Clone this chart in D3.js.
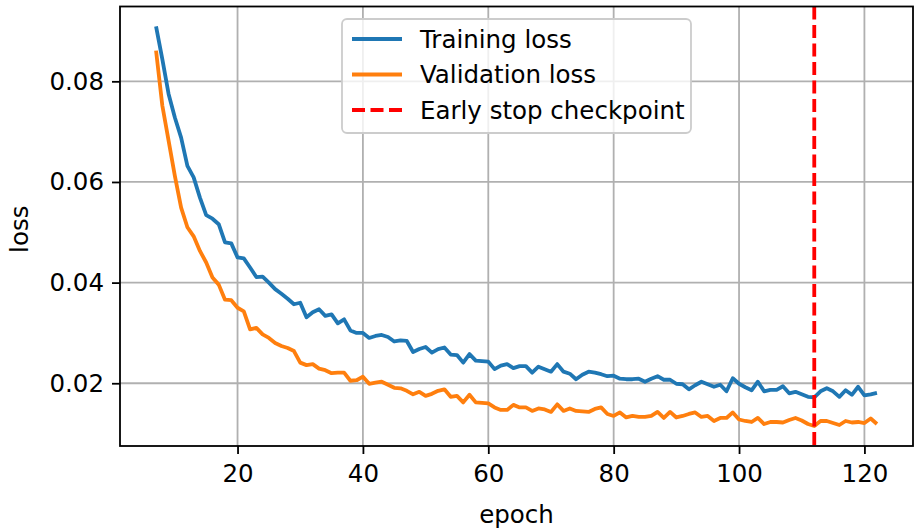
<!DOCTYPE html>
<html>
<head>
<meta charset="utf-8">
<script src="https://cdn.jsdelivr.net/npm/d3@7"></script>
<style>
  body { margin: 0; background: #fff; }
  text { font-family: "DejaVu Sans", sans-serif; fill: #000; }
</style>
</head>
<body>
<div id="lossChart"></div>
<script>
const epochs = d3.range(7, 123);

const trainLoss = [
  0.0909, 0.0844, 0.0775, 0.0728, 0.0688, 0.0632, 0.0609, 0.0569, 0.0534, 0.0527,
  0.0516, 0.0480, 0.0478, 0.0450, 0.0448, 0.0430, 0.0411, 0.0412, 0.0400, 0.0387,
  0.0378, 0.0368, 0.0357, 0.0360, 0.0331, 0.0341, 0.0347, 0.0334, 0.0337, 0.0319,
  0.0327, 0.0305, 0.0300, 0.0300, 0.0290, 0.0294, 0.0296, 0.0292, 0.0283, 0.0285,
  0.0284, 0.0262, 0.0268, 0.0272, 0.0261, 0.0268, 0.0271, 0.0257, 0.0256, 0.0241,
  0.0258, 0.0245, 0.0244, 0.0243, 0.0228, 0.0235, 0.0238, 0.0230, 0.0234, 0.0234,
  0.0221, 0.0233, 0.0228, 0.0223, 0.0238, 0.0223, 0.0219, 0.0208, 0.0217, 0.0223,
  0.0221, 0.0218, 0.0214, 0.0215, 0.0209, 0.0208, 0.0208, 0.0209, 0.0203, 0.0209,
  0.0214, 0.0207, 0.0207, 0.0199, 0.0198, 0.0188, 0.0196, 0.0203, 0.0198, 0.0193,
  0.0197, 0.0184, 0.0210, 0.0199, 0.0192, 0.0186, 0.0203, 0.0184, 0.0187, 0.0187,
  0.0194, 0.0180, 0.0183, 0.0178, 0.0173, 0.0172, 0.0184, 0.0190, 0.0184, 0.0173,
  0.0186, 0.0177, 0.0193, 0.0176, 0.0178, 0.0181
];

const valLoss = [
  0.0861, 0.0752, 0.0682, 0.0612, 0.0549, 0.0510, 0.0492, 0.0463, 0.0440, 0.0410,
  0.0396, 0.0366, 0.0365, 0.0350, 0.0343, 0.0307, 0.0310, 0.0297, 0.0290, 0.0280,
  0.0274, 0.0270, 0.0264, 0.0241, 0.0236, 0.0238, 0.0229, 0.0226, 0.0220, 0.0221,
  0.0221, 0.0205, 0.0206, 0.0213, 0.0199, 0.0201, 0.0203, 0.0197, 0.0191, 0.0190,
  0.0185, 0.0178, 0.0183, 0.0175, 0.0179, 0.0185, 0.0188, 0.0173, 0.0175, 0.0162,
  0.0177, 0.0162, 0.0161, 0.0160, 0.0152, 0.0147, 0.0147, 0.0157, 0.0152, 0.0152,
  0.0145, 0.0150, 0.0148, 0.0143, 0.0158, 0.0145, 0.0150, 0.0145, 0.0144, 0.0143,
  0.0149, 0.0152, 0.0139, 0.0135, 0.0142, 0.0132, 0.0135, 0.0133, 0.0133, 0.0135,
  0.0143, 0.0131, 0.0143, 0.0132, 0.0135, 0.0139, 0.0142, 0.0133, 0.0135, 0.0125,
  0.0131, 0.0131, 0.0142, 0.0128, 0.0125, 0.0123, 0.0131, 0.0119, 0.0123, 0.0123,
  0.0122, 0.0127, 0.0131, 0.0126, 0.0119, 0.0115, 0.0125, 0.0125, 0.0121, 0.0117,
  0.0125, 0.0122, 0.0123, 0.0121, 0.0130, 0.0119
];

const earlyStopEpoch = 112;
const xTicks = [20, 40, 60, 80, 100, 120];
const yTicks = [0.02, 0.04, 0.06, 0.08];
const legendLabels = ["Training loss", "Validation loss", "Early stop checkpoint"];

const W = 915, H = 530;
const margin = { top: 6.5, right: 2, bottom: 84, left: 120 };
const plotW = W - margin.left - margin.right;
const plotH = H - margin.top - margin.bottom;
const fontSize = 24.5;

const svg = d3.select("#lossChart").append("svg")
    .attr("width", W)
    .attr("height", H);

svg.append("rect").attr("width", W).attr("height", H).attr("fill", "#fff");

const g = svg.append("g").attr("transform", `translate(${margin.left},${margin.top})`);

// matplotlib style 5% padding
const xPad = (d3.max(epochs) - d3.min(epochs)) * 0.05;
const x = d3.scaleLinear()
    .domain([d3.min(epochs) - xPad, d3.max(epochs) + xPad])
    .range([0, plotW]);

const allVals = trainLoss.concat(valLoss);
const yPad = (d3.max(allVals) - d3.min(allVals)) * 0.05;
const y = d3.scaleLinear()
    .domain([d3.min(allVals) - yPad, d3.max(allVals) + yPad])
    .range([plotH, 0]);

// grid
g.append("g")
    .selectAll("line")
    .data(xTicks)
    .enter().append("line")
    .attr("x1", d => x(d)).attr("x2", d => x(d))
    .attr("y1", 0).attr("y2", plotH)
    .attr("stroke", "#b0b0b0").attr("stroke-width", 1.8);

g.append("g")
    .selectAll("line")
    .data(yTicks)
    .enter().append("line")
    .attr("x1", 0).attr("x2", plotW)
    .attr("y1", d => y(d)).attr("y2", d => y(d))
    .attr("stroke", "#b0b0b0").attr("stroke-width", 1.8);

// axes
const xAxis = g.append("g")
    .attr("transform", `translate(0,${plotH})`)
    .call(d3.axisBottom(x).tickValues(xTicks).tickSize(8).tickPadding(11).tickFormat(d3.format("d")));

const yAxis = g.append("g")
    .call(d3.axisLeft(y).tickValues(yTicks).tickSize(8).tickPadding(8).tickFormat(d3.format(".2f")));

[xAxis, yAxis].forEach(a => {
    a.select(".domain").remove();
    a.selectAll("line").attr("stroke", "#000").attr("stroke-width", 1.8);
    a.selectAll("text").attr("font-size", fontSize).attr("font-family", "DejaVu Sans").attr("fill", "#000");
});

// lines
const line = d3.line()
    .x((d, i) => x(epochs[i]))
    .y(d => y(d));

g.append("path")
    .datum(trainLoss)
    .attr("d", line)
    .attr("fill", "none")
    .attr("stroke", "#1f77b4")
    .attr("stroke-width", 3.8)
    .attr("stroke-linejoin", "round");

g.append("path")
    .datum(valLoss)
    .attr("d", line)
    .attr("fill", "none")
    .attr("stroke", "#ff7f0e")
    .attr("stroke-width", 3.8)
    .attr("stroke-linejoin", "round");

g.append("line")
    .attr("x1", x(earlyStopEpoch)).attr("x2", x(earlyStopEpoch))
    .attr("y1", 0).attr("y2", plotH)
    .attr("stroke", "#ff0000")
    .attr("stroke-width", 3.8)
    .attr("stroke-dasharray", "13,5.5");

// frame
g.append("rect")
    .attr("width", plotW).attr("height", plotH)
    .attr("fill", "none").attr("stroke", "#000").attr("stroke-width", 1.8);

// Axis Labels
svg.append("text")
    .attr("x", margin.left + plotW / 2)
    .attr("y", 523)
    .attr("text-anchor", "middle")
    .attr("font-size", fontSize)
    .text("epoch");

svg.append("text")
    .attr("transform", `translate(28,${margin.top + plotH / 2 + 3}) rotate(-90)`)
    .attr("text-anchor", "middle")
    .attr("font-size", fontSize)
    .text("loss");

// legend
const legend = svg.append("g").attr("transform", "translate(342,19)");
legend.append("rect")
    .attr("width", 349).attr("height", 114)
    .attr("rx", 5)
    .attr("fill", "#fff").attr("fill-opacity", 0.8)
    .attr("stroke", "#cccccc").attr("stroke-width", 1.8);

const legendStyles = [
    { color: "#1f77b4", dash: null },
    { color: "#ff7f0e", dash: null },
    { color: "#ff0000", dash: "13,5.5" }
];

legendLabels.forEach((label, i) => {
    const rowY = 20 + i * 35.5;
    legend.append("line")
        .attr("x1", 10).attr("x2", 60)
        .attr("y1", rowY).attr("y2", rowY)
        .attr("stroke", legendStyles[i].color)
        .attr("stroke-width", 3.8)
        .attr("stroke-dasharray", legendStyles[i].dash);
    legend.append("text")
        .attr("x", 78)
        .attr("y", rowY)
        .attr("dy", "0.35em")
        .attr("font-size", fontSize)
        .text(label);
});
</script>
</body>
</html>
